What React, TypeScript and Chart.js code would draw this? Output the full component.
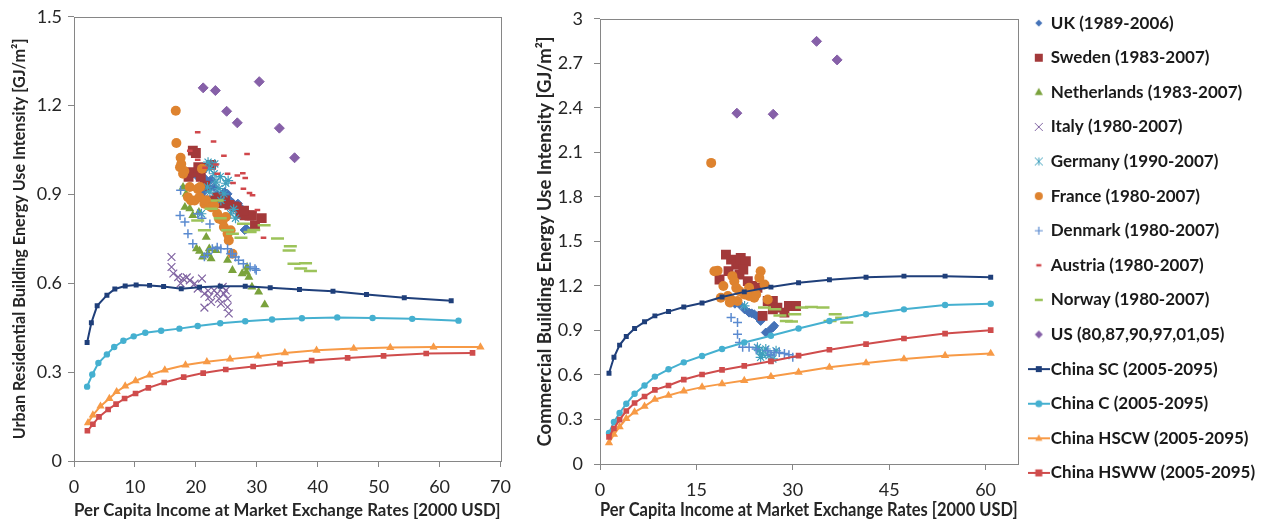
import React, { useEffect, useRef } from 'react';
import { Chart, registerables } from 'chart.js';

Chart.register(...registerables);

// ---------------- series names (legend) ----------------
const seriesNames = [
  'UK (1989-2006)',
  'Sweden (1983-2007)',
  'Netherlands (1983-2007)',
  'Italy (1980-2007)',
  'Germany (1990-2007)',
  'France (1980-2007)',
  'Denmark (1980-2007)',
  'Austria (1980-2007)',
  'Norway (1980-2007)',
  'US (80,87,90,97,01,05)',
  'China SC (2005-2095)',
  'China C (2005-2095)',
  'China HSCW (2005-2095)',
  'China HSWW (2005-2095)',
];

// ---------------- residential (left panel) ----------------
const ukRes = [[19.5,0.97],[20.3,0.96],[21.5,0.953],[21.2,0.908],[22.2,0.92],[23.0,0.925],[23.5,0.9],[24.2,0.89],[24.7,0.908],[25.2,0.902],[25.6,0.88],[26.1,0.87],[26.6,0.86],[26.9,0.869],[27.6,0.85],[28.3,0.784],[28.0,0.78],[22.5,0.95]];
const swedenRes = [[19.5,1.048],[20.0,1.04],[18.8,0.96],[19.2,0.975],[20.4,0.992],[21.0,0.99],[22.5,1.0],[20.8,0.96],[21.5,0.93],[22.0,0.88],[22.5,0.875],[23.5,0.89],[24.2,0.87],[24.8,0.88],[25.5,0.865],[26.3,0.86],[26.7,0.857],[27.3,0.835],[28.0,0.83],[28.8,0.829],[29.7,0.796],[30.8,0.82],[29.2,0.83],[27.9,0.845]];
const netherlandsRes = [[17.9,0.925],[18.4,0.902],[18.2,0.857],[19.0,0.852],[19.5,0.829],[20.5,0.84],[21.7,0.756],[20.1,0.717],[22.2,0.717],[23.3,0.711],[20.6,0.709],[21.1,0.689],[22.5,0.683],[25.2,0.678],[26.0,0.644],[27.6,0.633],[28.3,0.638],[28.7,0.621],[28.4,0.655],[29.2,0.588],[30.3,0.571],[31.3,0.528],[22.0,0.70]];
const italyRes = [[16.0,0.689],[16.0,0.655],[16.3,0.633],[17.1,0.621],[17.9,0.616],[19.0,0.61],[19.8,0.599],[20.3,0.582],[21.0,0.616],[21.4,0.565],[22.5,0.537],[21.4,0.518],[23.0,0.576],[23.8,0.548],[24.6,0.565],[25.2,0.52],[24.4,0.588],[25.2,0.548],[25.4,0.498],[24.1,0.531],[22.2,0.554],[23.5,0.565],[24.9,0.576],[17.5,0.60],[18.5,0.62],[22.0,0.575]];
const germanyRes = [[22.0,1.009],[23.1,1.003],[23.0,0.97],[23.3,0.942],[24.9,0.938],[24.6,0.902],[24.1,0.88],[25.7,0.835],[22.2,0.987],[21.9,0.925],[20.9,0.835],[23.8,0.92],[25.3,0.947],[26.2,0.85],[24.0,0.96],[22.3,0.908],[26.5,0.82]];
const franceRes = [[16.7,1.183],[16.8,1.074],[17.5,1.024],[17.4,0.992],[17.6,1.003],[18.1,0.979],[17.9,0.97],[19.0,0.925],[18.7,0.891],[19.2,0.88],[19.8,0.88],[20.3,0.919],[21.0,0.987],[20.6,0.891],[21.4,0.869],[21.7,0.88],[22.5,0.857],[23.0,0.863],[23.5,0.835],[23.8,0.818],[24.4,0.812],[24.9,0.824],[24.6,0.79],[25.2,0.767],[25.7,0.779],[25.4,0.745],[26.0,0.70],[20.7,0.925]];
const denmarkRes = [[17.5,0.914],[17.4,0.829],[18.2,0.807],[18.7,0.767],[19.5,0.734],[20.3,0.835],[21.0,0.82],[21.9,0.70],[22.7,0.717],[23.5,0.722],[24.1,0.717],[25.2,0.717],[25.7,0.70],[26.5,0.689],[27.0,0.678],[27.8,0.666],[28.9,0.655],[29.7,0.649],[29.9,0.644],[21.4,0.69],[22.3,0.80],[26.0,0.70]];
const austriaRes = [[20.3,1.11],[22.9,1.079],[24.6,1.031],[28.4,1.037],[19.0,1.048],[20.3,1.017],[23.3,1.001],[25.2,0.97],[27.7,0.972],[26.8,0.964],[28.1,0.956],[26.1,0.939],[27.8,0.919],[28.8,0.905],[29.3,0.897],[30.1,0.848],[31.1,0.754],[23.5,0.97],[21.5,0.99]];
const norwayRes = [[20.3,0.812],[21.4,0.779],[22.5,0.852],[23.5,0.88],[25.2,0.779],[26.0,0.767],[27.4,0.754],[27.8,0.801],[28.9,0.773],[31.2,0.796],[33.4,0.751],[35.5,0.725],[35.3,0.711],[36.1,0.666],[38.0,0.668],[37.2,0.65],[38.8,0.642],[24.0,0.82],[29.5,0.78]];
const usRes = [[21.2,1.26],[23.2,1.251],[25.05,1.181],[26.8,1.142],[30.4,1.281],[33.7,1.124],[36.2,1.024]];

const chinaScResX = [2.15,2.85,3.8,5.4,6.7,8.4,10.2,12.4,14.7,17.6,20.6,24.0,28.1,32.2,37.0,42.5,48.0,54.2,61.9];
const chinaScResY = [0.40,0.467,0.524,0.56,0.581,0.591,0.594,0.593,0.589,0.582,0.587,0.59,0.59,0.585,0.579,0.573,0.562,0.551,0.541];
const chinaCResX = [2.15,3.0,4.0,5.4,6.6,8.1,9.8,11.7,14.3,17.3,20.3,24.0,28.1,32.5,37.4,43.2,49.0,55.5,63.1];
const chinaCResY = [0.251,0.292,0.331,0.36,0.385,0.406,0.421,0.433,0.44,0.447,0.456,0.465,0.472,0.478,0.482,0.485,0.483,0.48,0.474];
const chinaHscwResX = [2.3,3.1,4.35,5.8,7.0,8.4,10.1,12.4,14.9,18.3,21.8,25.6,30.2,34.6,39.8,45.9,51.9,59.0,66.7];
const chinaHscwResY = [0.129,0.155,0.185,0.211,0.234,0.253,0.271,0.29,0.307,0.324,0.335,0.344,0.354,0.365,0.374,0.38,0.383,0.385,0.385];
const chinaHswwResX = [2.2,3.1,4.1,5.6,6.9,8.3,10.1,12.2,14.8,18.0,21.2,24.9,29.4,33.8,39.0,44.9,50.8,57.8,65.4];
const chinaHswwResY = [0.102,0.124,0.149,0.174,0.192,0.211,0.228,0.247,0.265,0.283,0.297,0.309,0.319,0.329,0.339,0.348,0.355,0.363,0.365];

// ---------------- commercial (right panel) ----------------
const ukCom = [[20.4,1.087],[21.0,1.08],[21.7,1.076],[22.5,1.042],[23.2,1.02],[23.6,1.015],[24.0,1.009],[24.4,0.995],[24.8,0.987],[25.0,0.964],[25.8,0.886],[26.3,0.897],[26.9,0.92],[27.1,0.931]];
const swedenCom = [[19.6,1.411],[20.4,1.377],[21.2,1.344],[21.9,1.388],[22.7,1.366],[18.6,1.243],[21.7,1.277],[23.0,1.232],[23.7,1.199],[24.5,1.187],[25.3,0.998],[26.1,1.098],[26.9,1.098],[27.6,1.054],[28.7,1.02],[29.4,1.065],[30.5,1.065],[26.9,1.042],[20.0,1.30],[22.3,1.31]];
const netherlandsCom = [];
const italyCom = [];
const germanyCom = [[22.5,1.065],[24.5,0.786],[24.8,0.763],[25.3,0.741],[25.0,0.719],[25.8,0.775],[26.3,0.73],[26.9,0.708],[27.4,0.763]];
const franceCom = [[17.3,2.029],[18.3,1.303],[19.2,1.199],[20.6,1.266],[20.9,1.232],[21.2,1.187],[21.7,1.165],[22.5,1.143],[23.2,1.132],[24.0,1.12],[24.3,1.143],[25.0,1.299],[24.8,1.254],[25.6,1.21],[26.1,1.109],[18.8,1.12],[19.9,1.132],[20.4,1.109],[21.4,1.098],[23.2,1.187],[17.8,1.299],[20.2,1.088]];
const denmarkCom = [[20.4,0.987],[21.4,0.953],[21.4,0.875],[21.7,0.819],[22.2,0.786],[23.2,0.786],[24.3,0.775],[26.1,0.763],[26.6,0.737],[27.1,0.752],[27.9,0.752],[28.7,0.745],[29.4,0.737],[30.0,0.719]];
const austriaCom = [];
const norwayCom = [[25.6,1.054],[27.2,1.042],[28.0,1.0],[29.0,0.964],[29.8,0.96],[30.3,1.009],[31.4,1.054],[32.9,1.058],[34.7,1.054],[35.8,0.964],[36.6,1.009],[37.6,0.986],[38.4,0.953]];
const usCom = [[21.3,2.364],[26.95,2.357],[33.7,2.848],[36.9,2.723]];

const chinaComX = [1.4,2.17,3.05,4.09,5.38,6.93,8.54,10.66,13.04,15.88,18.99,22.45,26.6,30.9,35.7,41.4,47.3,53.7,60.8];
const chinaScComY = [0.612,0.719,0.801,0.859,0.913,0.958,0.998,1.027,1.058,1.085,1.125,1.16,1.192,1.221,1.241,1.259,1.266,1.266,1.259];
const chinaCComY = [0.21,0.283,0.344,0.406,0.473,0.529,0.589,0.638,0.685,0.728,0.775,0.819,0.864,0.913,0.964,1.009,1.042,1.071,1.08];
const chinaHscwComY = [0.143,0.199,0.25,0.306,0.35,0.388,0.435,0.462,0.491,0.518,0.54,0.562,0.589,0.618,0.652,0.681,0.708,0.73,0.745];
const chinaHswwComY = [0.183,0.239,0.299,0.357,0.411,0.455,0.5,0.529,0.569,0.603,0.634,0.661,0.692,0.73,0.77,0.808,0.846,0.879,0.902];

// ---------------- axis ranges / titles ----------------
const resXRange = [0, 70, 10];
const resYRange = [0, 1.5, 0.3];
const comXRange = [0, 65, 15];
const comYRange = [0, 3, 0.3];
const xTitle = 'Per Capita Income at Market Exchange Rates [2000 USD]';
const resYTitle = 'Urban Residential Building Energy Use Intensity [GJ/m\u00B2]';
const comYTitle = 'Commercial Building Energy Use Intensity [GJ/m\u00B2]';

// ---------------- styles ----------------
const seriesStyles = [
  { color: '#4472b8', shape: 'rectRot', r: 4.5, bw: 1, line: false, lr: 3.5 },
  { color: '#a3393a', shape: 'rect', r: 7, bw: 0, line: false, lr: 4 },
  { color: '#7aa23c', shape: 'triangle', r: 5.2, bw: 0, line: false, lr: 4.5 },
  { color: '#8064a2', shape: 'crossRot', r: 5.5, bw: 1.2, line: false, lr: 4 },
  { color: '#3fa0bd', shape: 'star', r: 5, bw: 1.2, line: false, lr: 4 },
  { color: '#de832f', shape: 'circle', r: 5, bw: 0, line: false, lr: 4 },
  { color: '#5a8ad0', shape: 'cross', r: 4.5, bw: 1.5, line: false, lr: 4 },
  { color: '#d0474b', shape: 'line', r: 2.8, bw: 2.5, line: false, lr: 2.5 },
  { color: '#9cc35a', shape: 'line', r: 6.5, bw: 2.5, line: false, lr: 4 },
  { color: '#8660a8', shape: 'rectRot', r: 5, bw: 1, line: false, lr: 4 },
  { color: '#1f3f7a', shape: 'rect', r: 3.5, bw: 0, line: true, lr: 3 },
  { color: '#45b0d0', shape: 'circle', r: 3.2, bw: 0, line: true, lr: 3.5 },
  { color: '#f79a46', shape: 'triangle', r: 4.8, bw: 0, line: true, lr: 4 },
  { color: '#cf4c4c', shape: 'rect', r: 4, bw: 0, line: true, lr: 3.5 },
];

const AXIS_COLOR = '#868686';
const TEXT_COLOR = '#262626';
const FONT_FAMILY = "Lato, 'Open Sans', sans-serif";
const LEG_FONT = 17;
const LEG_PAD = 17.6;
const LEG_BOX = 7;

const zip = (xs, ys) => xs.map((x, i) => [x, ys[i]]);

function makeDataset(i, pts) {
  const s = seriesStyles[i];
  return {
    label: seriesNames[i],
    data: pts.map(([x, y]) => ({ x, y })),
    showLine: s.line,
    borderColor: s.color,
    backgroundColor: s.color,
    borderWidth: s.line ? 2 : 0,
    pointStyle: s.shape,
    pointRadius: s.r,
    pointBorderWidth: s.bw,
    pointBorderColor: s.color,
    pointBackgroundColor: s.color,
    order: -i,
  };
}

function drawMarker(ctx, shape, x, y, r, color) {
  ctx.fillStyle = color;
  ctx.strokeStyle = color;
  ctx.beginPath();
  switch (shape) {
    case 'circle':
      ctx.arc(x, y, r, 0, Math.PI * 2);
      ctx.fill();
      break;
    case 'rect':
      ctx.fillRect(x - r, y - r, 2 * r, 2 * r);
      break;
    case 'rectRot':
      ctx.moveTo(x, y - r); ctx.lineTo(x + r, y); ctx.lineTo(x, y + r); ctx.lineTo(x - r, y); ctx.closePath(); ctx.fill();
      break;
    case 'triangle':
      ctx.moveTo(x, y - r); ctx.lineTo(x + r * 0.9, y + r * 0.6); ctx.lineTo(x - r * 0.9, y + r * 0.6); ctx.closePath(); ctx.fill();
      break;
    case 'crossRot':
      ctx.lineWidth = 1;
      ctx.moveTo(x - r, y - r); ctx.lineTo(x + r, y + r); ctx.moveTo(x + r, y - r); ctx.lineTo(x - r, y + r); ctx.stroke();
      break;
    case 'star':
      ctx.lineWidth = 1;
      ctx.moveTo(x - r, y - r); ctx.lineTo(x + r, y + r); ctx.moveTo(x + r, y - r); ctx.lineTo(x - r, y + r);
      ctx.moveTo(x, y - r); ctx.lineTo(x, y + r); ctx.stroke();
      break;
    case 'cross':
      ctx.lineWidth = 1.2;
      ctx.moveTo(x - r, y); ctx.lineTo(x + r, y); ctx.moveTo(x, y - r); ctx.lineTo(x, y + r); ctx.stroke();
      break;
    case 'line':
      ctx.lineWidth = 2.5;
      ctx.moveTo(x - r, y); ctx.lineTo(x + r, y); ctx.stroke();
      break;
    default:
      break;
  }
}

function makeIcon(s) {
  const c = document.createElement('canvas');
  c.width = 22;
  c.height = 14;
  const ctx = c.getContext('2d');
  if (s.line) {
    ctx.strokeStyle = s.color;
    ctx.lineWidth = 2;
    ctx.beginPath();
    ctx.moveTo(0, 7);
    ctx.lineTo(22, 7);
    ctx.stroke();
  }
  drawMarker(ctx, s.shape, 11, 7, s.lr, s.color);
  return c;
}

const framePlugin = {
  id: 'frame',
  beforeDatasetsDraw(chart) {
    const { ctx, chartArea } = chart;
    const l = Math.round(chartArea.left) + 0.5;
    const t = Math.round(chartArea.top) + 0.5;
    const r = Math.round(chartArea.right) + 0.5;
    const b = Math.round(chartArea.bottom) + 0.5;
    ctx.save();
    ctx.strokeStyle = AXIS_COLOR;
    ctx.lineWidth = 1;
    ctx.strokeRect(l, t, r - l, b - t);
    ctx.restore();
  },
};

function axis(range, opts) {
  return {
    type: 'linear',
    min: range[0],
    max: range[1],
    ticks: {
      stepSize: range[2],
      includeBounds: false,
      padding: opts.tickPad,
      color: TEXT_COLOR,
      font: { size: opts.tickSize, family: FONT_FAMILY },
      callback: (v) => String(Math.round(v * 10) / 10),
    },
    grid: { display: true, drawOnChartArea: false, drawTicks: true, tickLength: 6, color: AXIS_COLOR },
    border: { display: false },
    title: {
      display: true,
      text: opts.title,
      color: TEXT_COLOR,
      font: { size: opts.titleSize, weight: 'bold', family: FONT_FAMILY },
      padding: opts.titlePad,
    },
    afterFit: opts.afterFit,
  };
}

export default function App() {
  const leftRef = useRef(null);
  const rightRef = useRef(null);

  useEffect(() => {
    Chart.defaults.font.family = FONT_FAMILY;

    const resSeries = [
      ukRes, swedenRes, netherlandsRes, italyRes, germanyRes, franceRes, denmarkRes, austriaRes, norwayRes, usRes,
      zip(chinaScResX, chinaScResY), zip(chinaCResX, chinaCResY), zip(chinaHscwResX, chinaHscwResY), zip(chinaHswwResX, chinaHswwResY),
    ];
    const comSeries = [
      ukCom, swedenCom, netherlandsCom, italyCom, germanyCom, franceCom, denmarkCom, austriaCom, norwayCom, usCom,
      zip(chinaComX, chinaScComY), zip(chinaComX, chinaCComY), zip(chinaComX, chinaHscwComY), zip(chinaComX, chinaHswwComY),
    ];

    const left = new Chart(leftRef.current, {
      type: 'scatter',
      data: { datasets: resSeries.map((p, i) => makeDataset(i, p)) },
      options: {
        animation: false,
        responsive: false,
        events: [],
        layout: { padding: { top: 16, right: 14, bottom: 0, left: 0 } },
        plugins: { legend: { display: false }, tooltip: { enabled: false } },
        scales: {
          x: axis(resXRange, { tickPad: 9, tickSize: 18, title: xTitle, titleSize: 17.3, titlePad: { top: 0, bottom: 1.6 }, afterFit: (s) => { s.height = 61; } }),
          y: axis(resYRange, { tickPad: 6, tickSize: 18, title: resYTitle, titleSize: 16.2, titlePad: { top: 10.3, bottom: 0 }, afterFit: (s) => { s.width = 74; } }),
        },
      },
      plugins: [framePlugin],
    });

    const icons = seriesStyles.map(makeIcon);
    const mctx = document.createElement('canvas').getContext('2d');
    mctx.font = `bold ${LEG_FONT}px ${FONT_FAMILY}`;
    const maxW = Math.max(...seriesNames.map((n) => mctx.measureText(n).width));
    const legendW = LEG_PAD + (LEG_BOX + LEG_FONT / 2 + maxW) + 10;
    const canvasW = 750;
    const plotRight = 1017.7 - 520;
    const padRight = Math.max(0, canvasW - plotRight - legendW);

    const right = new Chart(rightRef.current, {
      type: 'scatter',
      data: { datasets: comSeries.map((p, i) => makeDataset(i, p)) },
      options: {
        animation: false,
        responsive: false,
        events: [],
        layout: { padding: { top: 0, right: padRight, bottom: 0, left: 0 } },
        plugins: {
          tooltip: { enabled: false },
          title: { display: true, text: ' ', font: { size: 9, lineHeight: 1 }, padding: { top: 10, bottom: 0 } },
          legend: {
            display: true,
            position: 'right',
            align: 'start',
            maxWidth: 400,
            labels: {
              usePointStyle: true,
              pointStyleWidth: LEG_BOX,
              padding: LEG_PAD,
              color: '#1a1a1a',
              font: { size: LEG_FONT, weight: 'bold', family: FONT_FAMILY },
              generateLabels: () =>
                seriesNames.map((n, i) => ({
                  text: n,
                  pointStyle: icons[i],
                  fillStyle: seriesStyles[i].color,
                  strokeStyle: seriesStyles[i].color,
                  lineWidth: 0,
                  hidden: false,
                  datasetIndex: i,
                  fontColor: '#1a1a1a',
                })),
            },
          },
        },
        scales: {
          x: axis(comXRange, { tickPad: 9, tickSize: 18, title: xTitle, titleSize: 18.6, titlePad: { top: 0, bottom: 0.8 }, afterFit: (s) => { s.height = 58; } }),
          y: axis(comYRange, { tickPad: 11, tickSize: 18, title: comYTitle, titleSize: 18.5, titlePad: { top: 14, bottom: 0 }, afterFit: (s) => { s.width = 80; } }),
        },
      },
      plugins: [framePlugin],
    });

    return () => {
      left.destroy();
      right.destroy();
    };
  }, []);

  return (
    <div style={{ position: 'fixed', left: 0, top: 0, width: 1270, height: 522, overflow: 'hidden', background: '#fff' }}>
      <canvas ref={leftRef} width={520} height={522} style={{ position: 'absolute', left: 0, top: 0, display: 'block' }} />
      <canvas ref={rightRef} width={750} height={525} style={{ position: 'absolute', left: 520, top: -3, display: 'block' }} />
    </div>
  );
}
